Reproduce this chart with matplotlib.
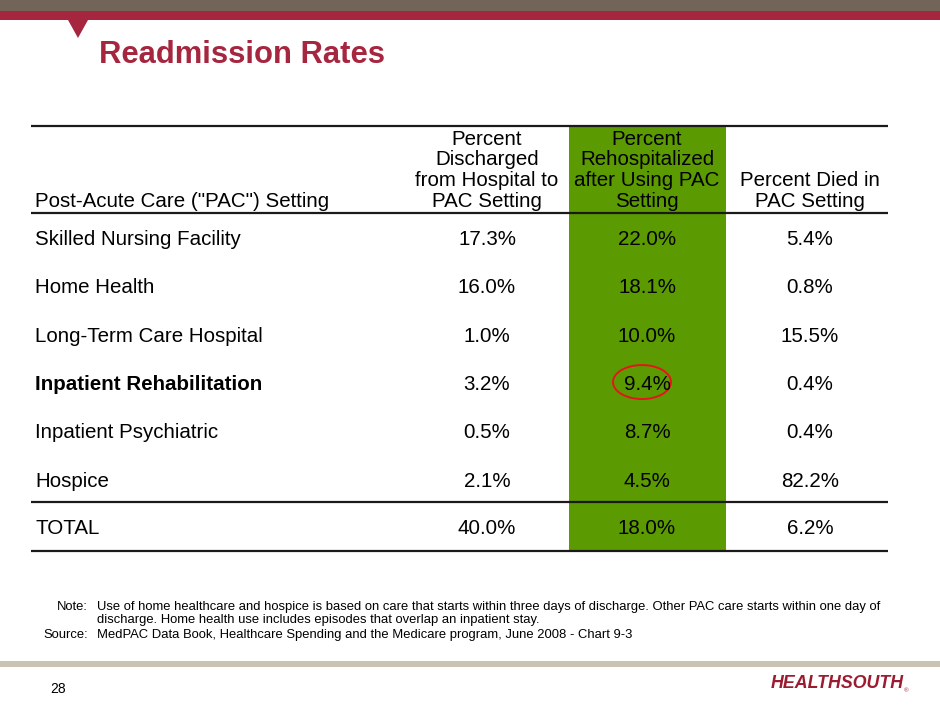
import matplotlib.pyplot as plt
from matplotlib.patches import Rectangle, Polygon, Ellipse

# data from the slide
settings = ['Skilled Nursing Facility', 'Home Health', 'Long-Term Care Hospital',
            'Inpatient Rehabilitation', 'Inpatient Psychiatric', 'Hospice']
discharged = ['17.3%', '16.0%', '1.0%', '3.2%', '0.5%', '2.1%']
rehospitalized = ['22.0%', '18.1%', '10.0%', '9.4%', '8.7%', '4.5%']
died = ['5.4%', '0.8%', '15.5%', '0.4%', '0.4%', '82.2%']
total_row = ['TOTAL', '40.0%', '18.0%', '6.2%']
headers = ['Post-Acute Care ("PAC") Setting',
           'Percent\nDischarged\nfrom Hospital to\nPAC Setting',
           'Percent\nRehospitalized\nafter Using PAC\nSetting',
           'Percent Died in\nPAC Setting']
bold_row = 'Inpatient Rehabilitation'
circled = (3, 2)  # row, column

RED = '#a6263f'
GREEN = '#5b9a00'
plt.rcParams['font.family'] = ['Liberation Sans', 'DejaVu Sans']

fig = plt.figure(figsize=(9.4, 7.05), dpi=100)
ax = fig.add_axes([0, 0, 1, 1])
ax.set_xlim(0, 940)
ax.set_ylim(705, 0)
ax.axis('off')

# slide decoration
ax.add_patch(Rectangle((0, 0), 940, 11, color='#736459', lw=0))
ax.add_patch(Rectangle((0, 11), 940, 9, color=RED, lw=0))
ax.add_patch(Polygon([(68, 20), (88, 20), (78, 38)], closed=True, color=RED, lw=0))
ax.text(99, 63, 'Readmission Rates', fontsize=22.3, fontweight='bold', color=RED, va='baseline')

# table layout
left, right = 31, 888
top, head_bot = 126, 213
row_h = 48.3
col_x = [35, 487, 647, 810]
green_l, green_r = 569, 726
fs = 14.8
n = len(settings)
sep_y = head_bot + row_h * n - 0.5
bot_y = sep_y + row_h

ax.add_patch(Rectangle((green_l, top), green_r - green_l, bot_y - top, color=GREEN, lw=0))
for y in [top, head_bot, sep_y, bot_y]:
    ax.plot([left, right], [y, y], color='#1a1a1a', lw=1.6, solid_capstyle='butt')

for i, h in enumerate(headers):
    ax.text(col_x[i], 211, h, fontsize=fs, ha='left' if i == 0 else 'center',
            va='bottom', linespacing=1.12, multialignment='center')

rows = [[s, a, b, c] for s, a, b, c in zip(settings, discharged, rehospitalized, died)]
rows.append(total_row)
for r, row in enumerate(rows):
    y = head_bot + row_h * (r + 0.5) + 0.5
    if r == n:
        y = sep_y + row_h / 2
    for c, val in enumerate(row):
        ax.text(col_x[c], y, val, fontsize=fs, ha='left' if c == 0 else 'center',
                va='center_baseline',
                fontweight='bold' if row[0] == bold_row and c == 0 else 'normal')

cr, cc = circled
ax.add_patch(Ellipse((col_x[cc] - 5, head_bot + row_h * (cr + 0.5)), 58, 34,
                     fill=False, ec='#e8141c', lw=1.4))

# notes
narrow = ['Liberation Sans Narrow', 'Liberation Sans', 'DejaVu Sans']
nfs = 9.35
ax.text(88, 607, 'Note:', fontsize=nfs, ha='right', va='center', family=narrow)
ax.text(97, 607, 'Use of home healthcare and hospice is based on care that starts within three days '
        'of discharge. Other PAC care starts within one day of', fontsize=nfs, va='center', family=narrow)
ax.text(97, 620, 'discharge. Home health use includes episodes that overlap an inpatient stay.',
        fontsize=nfs, va='center', family=narrow)
ax.text(88, 635, 'Source:', fontsize=nfs, ha='right', va='center', family=narrow)
ax.text(97, 635, 'MedPAC Data Book, Healthcare Spending and the Medicare program, June 2008 - Chart 9-3',
        fontsize=nfs, va='center', family=narrow)

# footer
ax.add_patch(Rectangle((0, 661), 940, 6, color='#c9c3b3', lw=0))
ax.text(50, 689, '28', fontsize=10, va='center')
ax.text(771, 684, 'HEALTHSOUTH', fontsize=12.8, fontweight='bold', style='italic',
        color='#9b1b30', va='center', ha='left')
ax.text(904, 691, '®', fontsize=4.5, color='#9b1b30', va='center')

fig.savefig('out.png', dpi=100)
